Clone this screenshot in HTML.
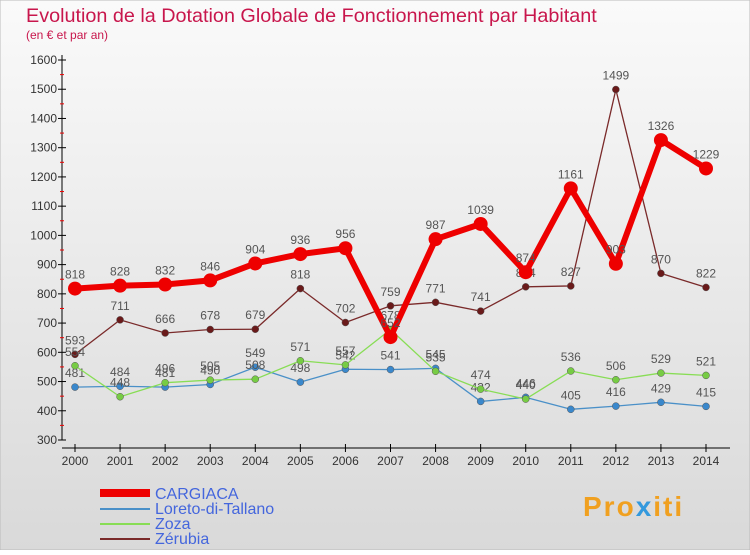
<!DOCTYPE html>
<html><head><meta charset="utf-8"><style>
body{margin:0;width:750px;height:550px;overflow:hidden;font-family:"Liberation Sans",sans-serif}
svg text{font-family:"Liberation Sans",sans-serif}
</style></head><body>
<svg id="chart" width="750" height="550">
<defs><linearGradient id="bg" x1="0" y1="0" x2="0" y2="1"><stop offset="0" stop-color="#fafafa"/><stop offset="1" stop-color="#d9d9d9"/></linearGradient></defs>
<rect x="0" y="0" width="750" height="550" fill="url(#bg)" stroke="#bbb"/>
<text x="26" y="22" font-size="19.8" fill="#c8164c">Evolution de la Dotation Globale de Fonctionnement par Habitant</text>
<text x="26" y="39" font-size="12" fill="#c8164c">(en € et par an)</text>
<g id="axes"></g><g id="series"></g>
<g>
<line x1="100" y1="493" x2="150" y2="493" stroke="#e00" stroke-width="8"/>
<text x="155" y="499" font-size="16" fill="#4466dd">CARGIACA</text>
<line x1="100" y1="509" x2="150" y2="509" stroke="#4a90c8" stroke-width="2"/>
<text x="155" y="514" font-size="16" fill="#4466dd">Loreto-di-Tallano</text>
<line x1="100" y1="524" x2="150" y2="524" stroke="#88dd55" stroke-width="2"/>
<text x="155" y="529" font-size="16" fill="#4466dd">Zoza</text>
<line x1="100" y1="539" x2="150" y2="539" stroke="#7a2a2a" stroke-width="2"/>
<text x="155" y="544" font-size="16" fill="#4466dd">Zérubia</text>
</g>
<text x="583" y="516" font-size="28" font-weight="bold" fill="#f0a020" letter-spacing="2">Pro<tspan fill="#3399dd">x</tspan>iti</text>
</svg>
<script>
const years=[2000,2001,2002,2003,2004,2005,2006,2007,2008,2009,2010,2011,2012,2013,2014];
const cargiaca=[818,828,832,846,904,936,956,652,987,1039,874,1161,903,1326,1229];
const loreto=[481,484,481,490,549,498,542,541,545,432,446,405,416,429,415];
const zoza=[554,448,496,505,508,571,557,678,535,474,440,536,506,529,521];
const zerubia=[593,711,666,678,679,818,702,759,771,741,824,827,1499,870,822];
const yTicks=[300,400,500,600,700,800,900,1000,1100,1200,1300,1400,1500,1600];
const NS='http://www.w3.org/2000/svg';
const x0=75,x1=706,y0=440,y1=60,vmin=300,vmax=1600;
const xs=i=>x0+(x1-x0)*i/(years.length-1);
const ys=v=>y0-(v-vmin)/(vmax-vmin)*(y0-y1);
function mk(tag,attrs,parent){const e=document.createElementNS(NS,tag);for(const k in attrs)e.setAttribute(k,attrs[k]);parent.appendChild(e);return e;}
const ax=document.getElementById('axes');
const yl=mk('line',{x1:62,y1:55,x2:62,y2:y0,stroke:'#000'},ax);


const xl=mk('line',{x1:62,y1:y0+8,x2:730,y2:y0+8,stroke:'#000'},ax);


yTicks.forEach(v=>{const y=ys(v);
mk('line',{x1:58,y1:y,x2:66,y2:y,stroke:'#000'},ax);
if(v<vmax)mk('line',{x1:60,y1:ys(v+50),x2:64,y2:ys(v+50),stroke:'#e00'},ax);
const t=mk('text',{x:57,y:y+4,'font-size':12,'text-anchor':'end',fill:'#333'},ax);t.textContent=v;

});
years.forEach((yr,i)=>{const x=xs(i);
mk('line',{x1:x,y1:y0+4,x2:x,y2:y0+12,stroke:'#000'},ax);
const t=mk('text',{x:x,y:y0+25,'font-size':12,'text-anchor':'middle',fill:'#333'},ax);t.textContent=yr;

});
const sg=document.getElementById('series');
function series(data,name,color,w,r,dot){
const g=mk('g',{},sg);


mk('polyline',{points:data.map((v,i)=>xs(i)+','+ys(v)).join(' '),fill:'none',stroke:color,'stroke-width':w,'stroke-linejoin':'round'},g);
data.forEach((v,i)=>{const c=mk('circle',{cx:xs(i),cy:ys(v),r:r,fill:dot,stroke:w>2?'none':'#555','stroke-width':0.5},g);


const t=mk('text',{x:xs(i),y:ys(v)-10,'font-size':12,'text-anchor':'middle',fill:'#555'},g);t.textContent=v;

});}
series(zerubia,'zerubia','#7a2a2a',1.3,3.5,'#6a1a1a');
series(loreto,'loreto','#4a90c8',1.3,3.5,'#3a88cc');
series(zoza,'zoza','#88dd55',1.3,3.5,'#77cc44');
series(cargiaca,'cargiaca','#ee0000',6,7,'#ee0000');
</script>
</body></html>
